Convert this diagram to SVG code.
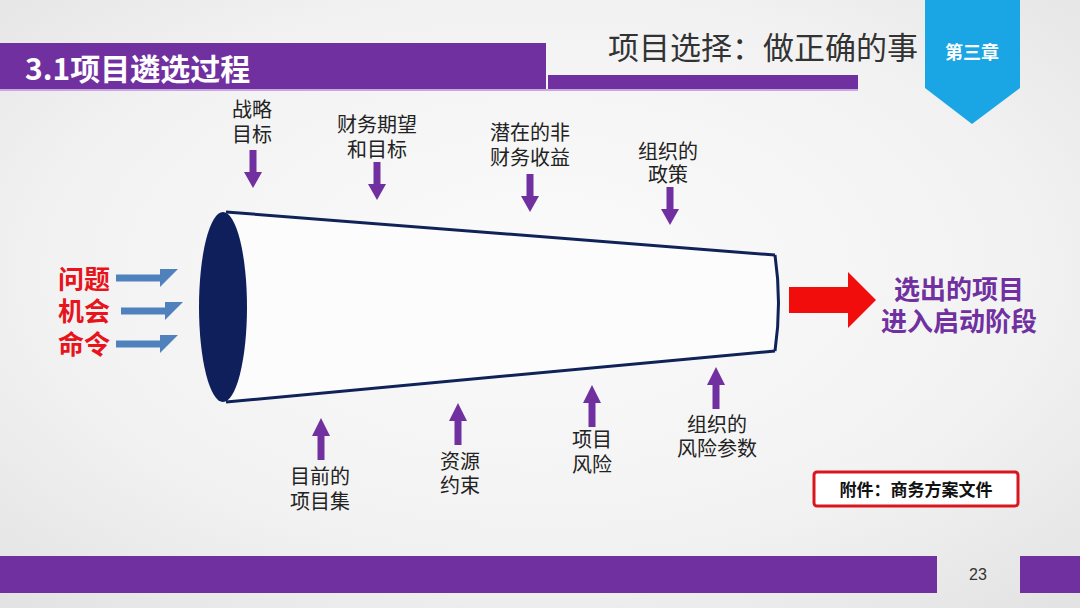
<svg xmlns="http://www.w3.org/2000/svg" width="1080" height="608" viewBox="0 0 1080 608">
<defs>
<radialGradient id="bg" cx="0.5" cy="0.45" r="0.75">
<stop offset="0" stop-color="#fbfbfb"/>
<stop offset="0.6" stop-color="#f2f2f2"/>
<stop offset="1" stop-color="#e2e2e2"/>
</radialGradient>
<style>
.lbl{font-family:"Noto Sans CJK SC","Noto Sans",sans-serif;font-size:20px;fill:#222;text-anchor:middle}
.red{font-family:"Noto Sans CJK SC",sans-serif;font-size:26px;font-weight:bold;fill:#e8141b;text-anchor:middle}
.pur{font-family:"Noto Sans CJK SC",sans-serif;font-size:26px;font-weight:bold;fill:#7030a0;text-anchor:middle}
.parrow{fill:#7030a0}
.barrow{fill:#4f81bd}
.funnel{stroke:#0f2358;stroke-width:3;fill:none}
</style>
<path id="down" d="M-3.5,0 H3.5 V22 H9 L0,38 L-9,22 H-3.5 Z"/>
<path id="up" d="M-3.5,0 H3.5 V-24 H9 L0,-42 L-9,-24 H-3.5 Z"/>
<path id="rarr" d="M0,-3.5 H44 V-9 H62 L44,9 V3.5 H0 Z"/>
</defs>
<rect width="1080" height="608" fill="url(#bg)"/>

<g id="header">
<rect x="0" y="43" width="546" height="46" fill="#7030a0"/>
<rect x="548" y="75" width="310" height="14" fill="#7030a0"/>
<rect x="0" y="89" width="858" height="2" fill="#c9a8e0"/>
<text x="25" y="80" font-family="'Noto Sans CJK SC',sans-serif" font-size="30" font-weight="bold" fill="#ffffff">3.1项目遴选过程</text>
<text x="608" y="59" font-family="'Noto Sans CJK SC',sans-serif" font-size="31" fill="#333333">项目选择：做正确的事</text>
</g>

<g id="chapter">
<path d="M925,0 H1020 V88 L972,124 L925,88 Z" fill="#1aa6e4"/>
<text x="972" y="59" font-family="'Noto Sans CJK SC',sans-serif" font-size="18" font-weight="bold" fill="#ffffff" text-anchor="middle">第三章</text>
</g>

<g id="funnel">
<path d="M226,212 L775,255 Q782,303 775,351 L226,402 Z" fill="#fcfcfc" stroke="none"/>
<path class="funnel" d="M226,212 L775,255"/>
<path class="funnel" d="M226,402 L775,351"/>
<path class="funnel" d="M775,255 Q782,303 775,351"/>
<ellipse cx="223" cy="307" rx="24" ry="95" fill="#0e1f5b"/>
</g>

<g id="inputs">
<text class="red" x="84" y="289">问题<tspan x="84" y="321">机会</tspan><tspan x="84" y="354">命令</tspan></text>
</g>

<g id="output">
<path d="M789,287 H848 V272 L876,300 L848,328 V313 H789 Z" fill="#f20d0d"/>
<text class="pur" x="959" y="299">选出的项目<tspan x="959" y="331">进入启动阶段</tspan></text>
</g>

<g id="top-labels">
<text class="lbl" x="252" y="117">战略<tspan x="252" y="142">目标</tspan></text>
<text class="lbl" x="377" y="132">财务期望<tspan x="377" y="157">和目标</tspan></text>
<text class="lbl" x="530" y="140">潜在的非<tspan x="530" y="165">财务收益</tspan></text>
<text class="lbl" x="668" y="159">组织的<tspan x="668" y="182">政策</tspan></text>
</g>

<g id="bottom-labels">
<text class="lbl" x="320" y="484">目前的<tspan x="320" y="509">项目集</tspan></text>
<text class="lbl" x="460" y="469">资源<tspan x="460" y="493">约束</tspan></text>
<text class="lbl" x="592" y="447">项目<tspan x="592" y="472">风险</tspan></text>
<text class="lbl" x="717" y="432">组织的<tspan x="717" y="456">风险参数</tspan></text>
</g>

<g id="connectors">
<use href="#rarr" class="barrow" x="116" y="278"/>
<use href="#rarr" class="barrow" x="121" y="311"/>
<use href="#rarr" class="barrow" x="116" y="344"/>
<use href="#down" class="parrow" x="253" y="150"/>
<use href="#down" class="parrow" x="377" y="162"/>
<use href="#down" class="parrow" x="530" y="174"/>
<use href="#down" class="parrow" x="670" y="187"/>
<use href="#up" class="parrow" x="321" y="460"/>
<use href="#up" class="parrow" x="458" y="445"/>
<use href="#up" class="parrow" x="592" y="427"/>
<use href="#up" class="parrow" x="716" y="409"/>
</g>

<g id="attachment">
<rect x="814" y="472" width="204" height="34" rx="3" fill="#ffffff" stroke="#d9161c" stroke-width="3"/>
<text x="916" y="496" font-family="'Noto Sans CJK SC',sans-serif" font-size="17" font-weight="bold" fill="#111111" text-anchor="middle">附件：商务方案文件</text>
</g>

<g id="footer">
<rect x="0" y="556" width="937" height="37" fill="#7030a0"/>
<rect x="1020" y="556" width="60" height="37" fill="#7030a0"/>
<text x="978" y="580" font-family="'Liberation Sans',sans-serif" font-size="16" fill="#333333" text-anchor="middle">23</text>
</g>
</svg>
